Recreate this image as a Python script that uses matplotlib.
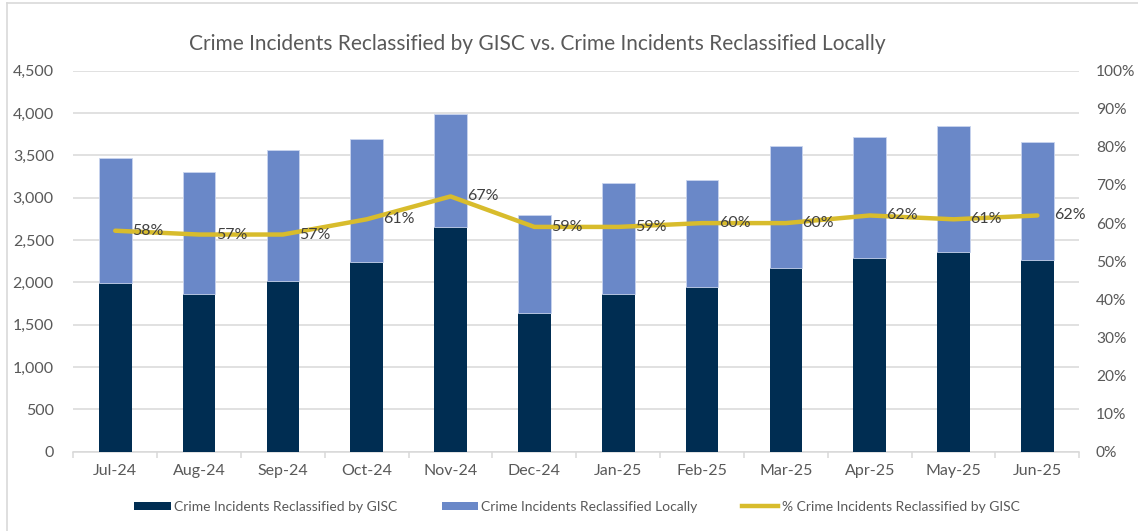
import matplotlib
matplotlib.use("Agg")
import matplotlib.pyplot as plt
import numpy as np
from matplotlib.ticker import FuncFormatter, MultipleLocator, FixedLocator
from matplotlib.lines import Line2D
from matplotlib.patches import Patch

plt.rcParams['font.family'] = ['Lato', 'DejaVu Sans']

months = ["Jul-24", "Aug-24", "Sep-24", "Oct-24", "Nov-24", "Dec-24",
          "Jan-25", "Feb-25", "Mar-25", "Apr-25", "May-25", "Jun-25"]
gisc = [1995, 1868, 2014, 2244, 2654, 1635, 1868, 1943, 2165, 2283, 2358, 2263]
local = [1469, 1438, 1549, 1446, 1336, 1158, 1300, 1264, 1449, 1430, 1489, 1391]
pct = [0.58, 0.57, 0.57, 0.61, 0.67, 0.59, 0.59, 0.60, 0.60, 0.62, 0.61, 0.62]

NAVY = "#002D52"
LIGHT = "#6A88C8"
GOLD = "#D8BC2C"
GRID = "#D9D9D9"
TXT = "#595959"

W, H = 1138, 531
fig = plt.figure(figsize=(W / 100, H / 100), dpi=100)
ax = fig.add_axes([73.3 / W, 1 - 451.7 / H, (1079.3 - 73.3) / W, (451.7 - 70.7) / H])

x = np.arange(len(months))
bw = 0.39
ax.bar(x, gisc, bw, color=NAVY, zorder=2, label="Crime Incidents Reclassified by GISC")
ax.bar(x, local, bw, bottom=gisc, color=LIGHT, edgecolor="#C9D4EE", linewidth=0.6, zorder=2,
       label="Crime Incidents Reclassified Locally")

ax.set_xlim(-0.5, len(months) - 0.5)
ax.set_ylim(0, 4500)
ax.yaxis.set_major_locator(MultipleLocator(500))
ax.yaxis.set_major_formatter(FuncFormatter(lambda v, p: f"{int(v):,}"))
ax.grid(axis="y", color=GRID, linewidth=1.1, zorder=0)
ax.set_axisbelow(True)
for s in ["top", "right", "left"]:
    ax.spines[s].set_visible(False)
ax.spines["bottom"].set_color(GRID)
ax.spines["bottom"].set_linewidth(1.1)
ax.spines["bottom"].set_zorder(1)

ax.set_xticks(x)
ax.set_xticklabels(months)
ax.xaxis.set_minor_locator(FixedLocator(np.arange(-0.5, len(months), 1.0)))
ax.tick_params(axis="x", which="major", length=0, pad=9, labelsize=11.5, labelcolor=TXT)
ax.tick_params(axis="x", which="minor", length=4, width=1.1, color=GRID)
ax.tick_params(axis="y", length=0, pad=14, labelsize=11.5, labelcolor=TXT)

ax2 = ax.twinx()
ax2.set_ylim(0, 1.0)
ax2.yaxis.set_major_locator(MultipleLocator(0.1))
ax2.yaxis.set_major_formatter(FuncFormatter(lambda v, p: f"{v*100:.0f}%"))
for s in ax2.spines.values():
    s.set_visible(False)
ax2.tick_params(axis="y", length=0, pad=12, labelsize=11.2, labelcolor=TXT)
ax2.plot(x, pct, color=GOLD, linewidth=3.2, solid_capstyle="round", zorder=3)
for xi, p in zip(x, pct):
    ax2.annotate(f"{p*100:.0f}%", (xi, p), xytext=(12, 0), textcoords="offset points",
                 ha="left", va="center", fontsize=11.5, color="#404040")

fig.text(537 / W, 1 - 44 / H,
         "Crime Incidents Reclassified by GISC vs. Crime Incidents Reclassified Locally",
         ha="center", va="center", fontsize=15, color=TXT)

handles = [Patch(facecolor=NAVY), Patch(facecolor=LIGHT),
           Line2D([0], [0], color=GOLD, linewidth=3.2)]
labels = ["Crime Incidents Reclassified by GISC", "Crime Incidents Reclassified Locally",
          "% Crime Incidents Reclassified by GISC"]
fig.legend(handles, labels, loc="center", bbox_to_anchor=(577 / W, 1 - 507 / H), ncol=3,
           frameon=False, fontsize=10, labelcolor=TXT, handlelength=2.6, handleheight=0.58,
           columnspacing=3.2, handletextpad=0.25)

# chart border
fig.add_artist(Line2D([7 / W, 7 / W], [0, 1 - 3 / H], color=GRID, linewidth=1.2))
fig.add_artist(Line2D([7 / W, 1], [1 - 3 / H, 1 - 3 / H], color=GRID, linewidth=1.2))

fig.savefig("out.png", dpi=100, facecolor="white")
